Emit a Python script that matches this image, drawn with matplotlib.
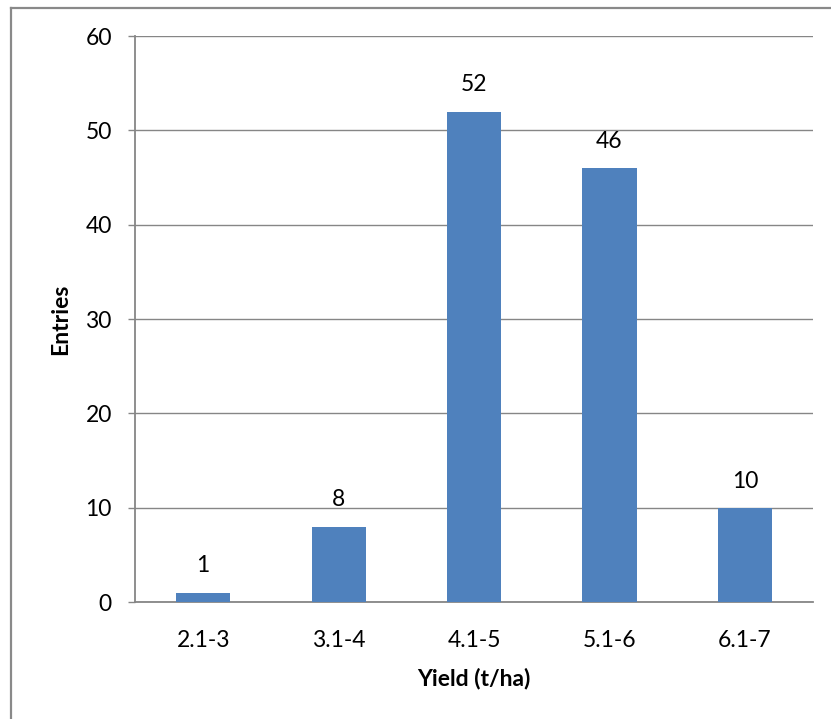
import matplotlib
matplotlib.use("Agg")
import matplotlib.pyplot as plt
from matplotlib.lines import Line2D

categories = ["2.1-3", "3.1-4", "4.1-5", "5.1-6", "6.1-7"]
entries = [1, 8, 52, 46, 10]
y_ticks = [0, 10, 20, 30, 40, 50, 60]

plt.rcParams["font.family"] = ["Lato", "DejaVu Sans"]
FS = 16.5

fig = plt.figure(figsize=(8.31, 7.19), dpi=100)
ax = fig.add_axes([0.163, 0.1627, 0.815, 0.787])

grid_col = "#868686"
bar_col = "#4F81BD"

x = list(range(len(categories)))
bars = ax.bar(x, entries, width=0.4, color=bar_col, zorder=3)

ax.set_xlim(-0.5, len(categories) - 0.5)
ax.set_ylim(0, 60)
ax.set_yticks(y_ticks)
ax.set_xticks(x)
ax.set_xticklabels(categories)

ax.yaxis.grid(True, color=grid_col, linewidth=1.0, zorder=0)
ax.set_axisbelow(True)
for s in ["top", "right"]:
    ax.spines[s].set_visible(False)
for s in ["left", "bottom"]:
    ax.spines[s].set_color(grid_col)
    ax.spines[s].set_linewidth(1.3)

ax.tick_params(axis="y", length=5, width=1.0, color=grid_col, pad=12, labelsize=FS)
ax.tick_params(axis="x", length=0, pad=20, labelsize=FS)

for xi, v in zip(x, entries):
    ax.annotate(str(v), (xi, v), xytext=(0, 14.5), textcoords="offset points",
                ha="center", va="baseline", fontsize=FS)

ax.set_xlabel("Yield (t/ha)", fontsize=FS, fontweight="bold", labelpad=12)
ax.set_ylabel("Entries", fontsize=FS, fontweight="bold", labelpad=10)

# outer chart frame
W, H = 831, 719
fx0, fy1 = 10.5 / W, 1 - 7.5 / H
fig.add_artist(Line2D([fx0, fx0], [0, fy1], transform=fig.transFigure,
                      color="#898989", linewidth=1.6))
fig.add_artist(Line2D([fx0, 1], [fy1, fy1], transform=fig.transFigure,
                      color="#898989", linewidth=1.6))

fig.savefig("out.png", dpi=100, facecolor="white")
